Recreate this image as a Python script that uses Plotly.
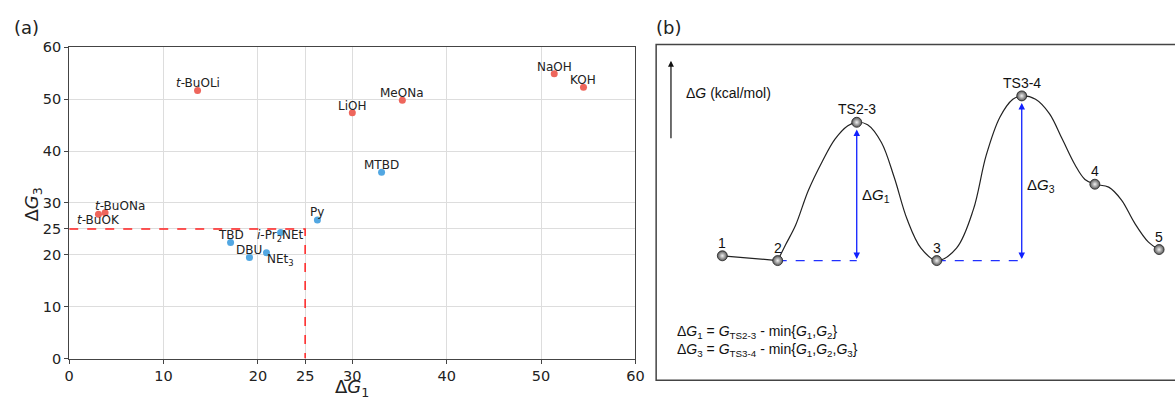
import plotly.graph_objects as go

# ---------------- Panel (a) data ----------------
red_names = ["<i>t</i>-BuOK", "<i>t</i>-BuONa", "<i>t</i>-BuOLi", "LiOH", "MeONa", "NaOH", "KOH"]
red_dg1 = [3.1, 3.8, 13.6, 30.0, 35.3, 51.4, 54.5]
red_dg3 = [27.8, 28.1, 51.7, 47.4, 49.8, 54.9, 52.3]

blue_names = ["TBD", "DBU", "NEt<sub>3</sub>", "<i>i</i>-Pr<sub>2</sub>NEt", "Py", "MTBD"]
blue_dg1 = [17.1, 19.1, 20.9, 22.4, 26.3, 33.1]
blue_dg3 = [22.4, 19.5, 20.4, 24.3, 26.7, 35.9]

threshold = 25
tick_values = [0, 10, 20, 25, 30, 40, 50, 60]
axis_range = [0, 60]

# ---------------- Panel (b) data ----------------
state_labels = ["1", "2", "TS2-3", "3", "TS3-4", "4", "5"]
state_rc = [6.7, 12.3, 20.3, 28.4, 37.0, 44.4, 50.9]
state_G = [1.0, 0.0, 28.8, 0.0, 34.3, 15.9, 2.3]

curve_rc = [12.3, 13.1, 14.1, 15.4, 16.8, 18.1, 19.4, 20.3, 21.4, 22.8, 24.1, 25.4, 26.8, 28.4,
            30.4, 32.1, 33.4, 34.8, 36.1, 37.0, 38.4, 39.8, 41.1, 42.4, 43.4, 44.4, 45.8, 47.1,
            48.4, 49.8, 50.9]
curve_G = [0.0, 3.3, 7.3, 14.6, 20.6, 25.3, 28.1, 28.8, 28.3, 24.6, 17.3, 8.6, 2.6, 0.0,
           2.6, 10.6, 21.9, 29.9, 33.6, 34.3, 33.6, 30.6, 25.3, 19.9, 16.9, 15.9, 15.3, 12.6,
           7.9, 3.9, 2.3]

W, H = 1175, 404
RED = "#EE665C"
BLUE = "#52A7E2"
FA = "DejaVu Sans"
FB = "Liberation Sans"

def px(xp):
    return xp / W

def py(yp):
    return (H - yp) / H

fig = go.Figure()

# red dashed threshold lines
fig.add_trace(go.Scatter(x=[0, threshold, threshold], y=[threshold, threshold, 0],
                         mode="lines", line=dict(color="#FF2020", width=1.5, dash="dash"),
                         xaxis="x", yaxis="y", hoverinfo="skip"))
fig.add_trace(go.Scatter(x=red_dg1, y=red_dg3, mode="markers",
                         marker=dict(color=RED, size=7), xaxis="x", yaxis="y"))
fig.add_trace(go.Scatter(x=blue_dg1, y=blue_dg3, mode="markers",
                         marker=dict(color=BLUE, size=7), xaxis="x", yaxis="y"))

annotations = []
# label offsets (px) for panel (a)
red_off = [(0, -6), (15, 7), (0, 7), (0, 7), (0, 7), (0, 7), (0, 7)]
blue_off = [(0, 7), (0, 7), (14, -7), (0, -3), (0, 8), (0, 7)]
for names, xs, ys, offs in [(red_names, red_dg1, red_dg3, red_off),
                            (blue_names, blue_dg1, blue_dg3, blue_off)]:
    for n, xv, yv, (dx, dy) in zip(names, xs, ys, offs):
        annotations.append(dict(x=xv, y=yv, xref="x", yref="y", text=n, showarrow=False,
                                xanchor="center", yanchor="middle", xshift=dx, yshift=dy,
                                font=dict(family=FA, size=12, color="#222")))

# axis titles panel (a)
annotations.append(dict(x=px(351), y=py(396), xref="paper", yref="paper",
                        text="Δ<i>G</i><sub>1</sub>", showarrow=False,
                        xanchor="center", yanchor="middle",
                        font=dict(family=FA, size=18, color="#222")))
annotations.append(dict(x=px(28), y=py(205), xref="paper", yref="paper",
                        text="Δ<i>G</i><sub>3</sub>", showarrow=False, textangle=-90,
                        xanchor="center", yanchor="middle",
                        font=dict(family=FA, size=18, color="#222")))
annotations.append(dict(x=px(7), y=py(20), xref="paper", yref="paper", text="(a)",
                        showarrow=False, xanchor="left", yanchor="middle",
                        font=dict(family=FA, size=18, color="#222")))
annotations.append(dict(x=px(657), y=py(20), xref="paper", yref="paper", text="(b)",
                        showarrow=False, xanchor="left", yanchor="middle",
                        font=dict(family=FA, size=18, color="#222")))

# ---------------- Panel (b) ----------------
fig.add_trace(go.Scatter(x=state_rc[0:2], y=state_G[0:2], mode="lines",
                         line=dict(color="#222", width=1.2), xaxis="x2", yaxis="y2"))
fig.add_trace(go.Scatter(x=curve_rc, y=curve_G, mode="lines",
                         line=dict(color="#222", width=1.2, shape="spline", smoothing=1.0),
                         xaxis="x2", yaxis="y2"))
# dashed baselines and double-headed arrows
for i_min, i_ts in [(1, 2), (3, 4)]:
    fig.add_trace(go.Scatter(x=[state_rc[i_min], state_rc[i_ts]],
                             y=[state_G[i_min], state_G[i_min]], mode="lines",
                             line=dict(color="#2030FF", width=1.2, dash="dash"),
                             xaxis="x2", yaxis="y2"))
    annotations.append(dict(x=state_rc[i_ts], y=state_G[i_ts] - 1.5, xref="x2", yref="y2",
                            ax=state_rc[i_ts], ay=state_G[i_min], axref="x2", ayref="y2",
                            text="", showarrow=True, arrowhead=2, arrowsize=1,
                            arrowwidth=1.3, arrowcolor="#1020FF", arrowside="end+start"))
fig.add_trace(go.Scatter(x=state_rc, y=state_G, mode="markers",
                         marker=dict(color="#555555", size=10,
                                     gradient=dict(type="radial", color="#f2f2f2"),
                                     line=dict(color="#222", width=0.8)),
                         xaxis="x2", yaxis="y2"))
for lab, xv, yv in zip(state_labels, state_rc, state_G):
    annotations.append(dict(x=xv, y=yv, xref="x2", yref="y2", text=lab, showarrow=False,
                            xanchor="center", yanchor="middle", yshift=13,
                            font=dict(family=FB, size=14, color="#111")))
annotations.append(dict(x=state_rc[2], y=13.6, xref="x2", yref="y2",
                        text="Δ<i>G</i><sub>1</sub>", showarrow=False, xanchor="left",
                        yanchor="middle", xshift=3, font=dict(family=FB, size=15, color="#111")))
annotations.append(dict(x=state_rc[4], y=15.6, xref="x2", yref="y2",
                        text="Δ<i>G</i><sub>3</sub>", showarrow=False, xanchor="left",
                        yanchor="middle", xshift=3, font=dict(family=FB, size=15, color="#111")))
# energy axis arrow
annotations.append(dict(x=px(674), y=py(55), xref="paper", yref="paper",
                        ax=0, ay=79, axref="pixel", ayref="pixel", text="", showarrow=True,
                        arrowhead=2, arrowsize=1, arrowwidth=1.2, arrowcolor="#111"))
annotations.append(dict(x=px(687), y=py(88), xref="paper", yref="paper",
                        text="Δ<i>G</i> (kcal/mol)", showarrow=False, xanchor="left",
                        yanchor="middle", font=dict(family=FB, size=14, color="#111")))
annotations.append(dict(x=px(678), y=py(337), xref="paper", yref="paper",
                        text="Δ<i>G</i><sub>1</sub> = <i>G</i><sub>TS2-3</sub> - min{<i>G</i><sub>1</sub>,<i>G</i><sub>2</sub>}",
                        showarrow=False, xanchor="left", yanchor="middle",
                        font=dict(family=FB, size=14, color="#111")))
annotations.append(dict(x=px(678), y=py(356), xref="paper", yref="paper",
                        text="Δ<i>G</i><sub>3</sub> = <i>G</i><sub>TS3-4</sub> - min{<i>G</i><sub>1</sub>,<i>G</i><sub>2</sub>,<i>G</i><sub>3</sub>}",
                        showarrow=False, xanchor="left", yanchor="middle",
                        font=dict(family=FB, size=14, color="#111")))

shapes = [dict(type="rect", xref="paper", yref="paper", x0=px(659), x1=1.05,
               y0=py(387.5), y1=py(38), line=dict(color="#444", width=1.5))]

axis_common = dict(range=axis_range, tickvals=tick_values, showgrid=True, gridcolor="#dddddd",
                   gridwidth=1, zeroline=False, showline=True, mirror=True, linecolor="#444",
                   linewidth=1, ticks="outside", ticklen=4, tickcolor="#444",
                   tickfont=dict(family=FA, size=14.5, color="#222"))

fig.update_layout(
    width=W, height=H, margin=dict(l=0, r=0, t=0, b=0), autosize=False,
    paper_bgcolor="white", plot_bgcolor="white", showlegend=False,
    xaxis=dict(domain=[px(65), px(638)], anchor="y", **axis_common),
    yaxis=dict(domain=[py(365), py(41)], anchor="x", **axis_common),
    xaxis2=dict(domain=[px(659), 1.0], range=[0, 51.6], visible=False, anchor="y2"),
    yaxis2=dict(domain=[0, 1], range=[-28.2, 52.6], visible=False, anchor="x2"),
    annotations=annotations, shapes=shapes,
)

fig.write_html("out.html", config={"displayModeBar": False},
               post_script="document.body.style.margin='0';document.body.style.overflow='hidden';")
